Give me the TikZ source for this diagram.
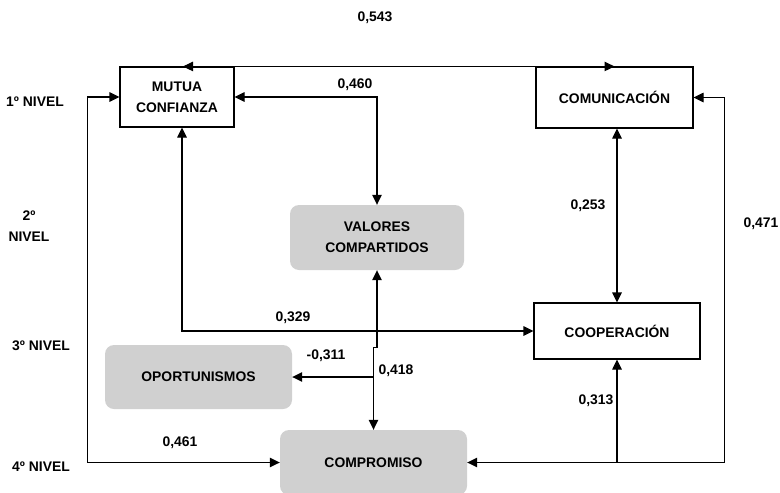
\documentclass[tikz,border=0pt]{standalone}
\usepackage{fontspec}
\setmainfont{Liberation Sans}
\usetikzlibrary{arrows.meta,calc}
\definecolor{boxgray}{RGB}{208,208,208}
\begin{document}
\begin{tikzpicture}[x=1pt,y=-1pt,
  font=\fontsize{13.9}{21}\selectfont\bfseries,
  plainbox/.style={draw=black,line width=1.1pt,fill=white,align=center,inner sep=0pt},
  graybox/.style={fill=boxgray,rounded corners=9pt,align=center,inner sep=0pt},
  link/.style={line width=1.1pt,{Triangle[length=10pt,width=9.5pt]}-{Triangle[length=10pt,width=9.5pt]}},
  onelink/.style={line width=1.1pt,-{Triangle[length=10pt,width=9.5pt]}},
  lbl/.style={inner sep=0pt,align=center}]
\useasboundingbox (0,0) rectangle (780,493);

% construct boxes
\node[plainbox,minimum width=114pt,minimum height=60pt] (mut) at (177,97) {MUTUA\\CONFIANZA};
\node[plainbox,minimum width=157pt,minimum height=61pt] (com) at (614.5,97.5) {COMUNICACIÓN};
\node[graybox,minimum width=174pt,minimum height=65pt] (val) at (377,237.5) {VALORES\\COMPARTIDOS};
\node[graybox,minimum width=187pt,minimum height=64pt] (opo) at (198.5,377) {OPORTUNISMOS};
\node[graybox,minimum width=187pt,minimum height=65pt] (comp) at (373.5,462.5) {COMPROMISO};
\node[plainbox,minimum width=166pt,minimum height=56pt] (coop) at (617,331) {COOPERACIÓN};

% level labels
\node[lbl] (n1) at (35,102) {1º NIVEL};
\node[lbl] (n2) at (29,226.5) {2º\\NIVEL};
\node[lbl] (n3) at (41,346) {3º NIVEL};
\node[lbl] (n4) at (41,467) {4º NIVEL};

% connectors
\draw[link] ([xshift=6pt]mut.north) -- (com.north);
\draw[link] (mut.east) -| (val.north);
\draw[link] ([xshift=5pt]mut.south) |- (coop.west);
\draw[link] (val.south) -- ++(0,77) -| (comp.north);
\coordinate (split) at (comp.north |- opo.east);
\draw[onelink] (split) -- (opo.east);
\draw[link] (com.east) -- ++(31,0) |- (comp.east);
\coordinate (fork) at (coop.south |- comp.east);
\draw[onelink] (fork) -- (coop.south);
\draw[link] (mut.west) -- ++(-32,0) |- (comp.west);
\draw[link] (coop.north |- com.south) -- (coop.north);

% path coefficients
\node[lbl] (c543) at (375,18) {0,543};
\node[lbl] (c460) at (355,85) {0,460};
\node[lbl] (c253) at (588,206) {0,253};
\node[lbl] (c471) at (761,224) {0,471};
\node[lbl] (c329) at (293,318) {0,329};
\node[lbl] (c311) at (326,356) {-0,311};
\node[lbl] (c418) at (396,371) {0,418};
\node[lbl] (c313) at (596,401) {0,313};
\node[lbl] (c461) at (180,443) {0,461};
\end{tikzpicture}
\end{document}
